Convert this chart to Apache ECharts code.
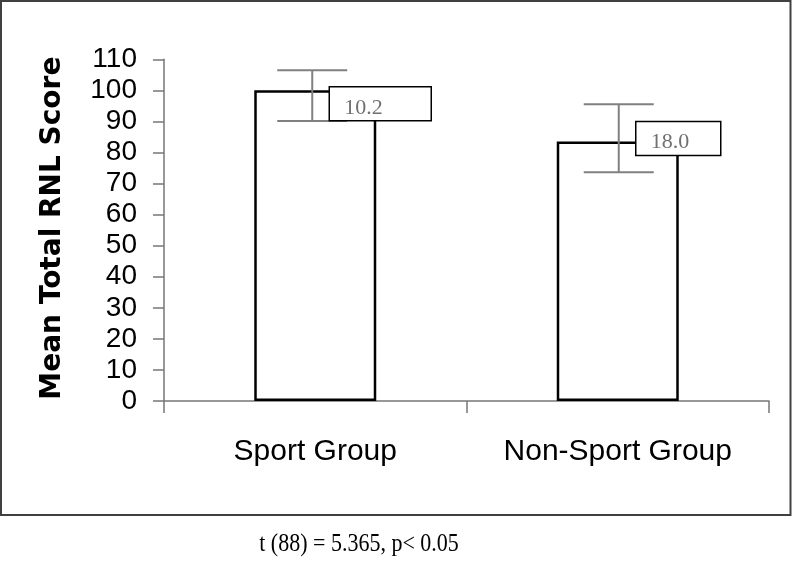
<!DOCTYPE html>
<html>
<head>
<meta charset="utf-8">
<script src="https://cdn.jsdelivr.net/npm/echarts@6/dist/echarts.min.js"></script>
<style>
html,body{margin:0;padding:0;background:#fff;}
#chart{width:792px;height:562px;}
</style>
</head>
<body>
<div id="chart"></div>
<script>
// ---- data ----
const categories = ['Sport Group', 'Non-Sport Group'];
const meanScores = [100, 83.5];
const errorUpper = [106.5, 95.5];
const errorLower = [90.1, 73.6];
const sdLabels = ['10.2', '18.0'];
const yMin = 0, yMax = 110, yInterval = 10;
const yAxisTitle = 'Mean Total RNL Score';
const footnote = 't (88) = 5.365, p< 0.05';

// ---- layout/style (not data) ----
const boxLayout = [
  { dx: 14, dy: -3.5, w: 102, h: 34, errDx: -3 },
  { dx: 18, dy: -20, w: 85, h: 34, errDx: 1 }
];

const errData = categories.map((c, i) => [i, errorLower[i], errorUpper[i], meanScores[i]]);

const chart = echarts.init(document.getElementById('chart'), null, { renderer: 'canvas' });
chart.setOption({
  animation: false,
  backgroundColor: '#fff',
  grid: { left: 164, right: 23, top: 59.3, bottom: 161, containLabel: false, outerBoundsMode: 'none' },
  xAxis: {
    type: 'category',
    data: categories,
    boundaryGap: true,
    axisLine: { lineStyle: { color: '#777', width: 1.5 } },
    axisTick: { show: true, interval: 0, length: 12, alignWithLabel: false, lineStyle: { color: '#777', width: 1.5 } },
    axisLabel: { interval: 0, hideOverlap: false, color: '#000', fontSize: 30, fontFamily: '"Liberation Sans", Arial, sans-serif', margin: 36 }
  },
  yAxis: {
    type: 'value',
    min: yMin, max: yMax, interval: yInterval,
    splitLine: { show: false },
    axisLine: { show: true, lineStyle: { color: '#777', width: 1.5 } },
    axisTick: { show: true, length: 11, lineStyle: { color: '#777', width: 1.5 } },
    axisLabel: { color: '#000', fontSize: 28, fontFamily: '"Liberation Sans", Arial, sans-serif', margin: 27 },
    name: yAxisTitle,
    nameLocation: 'middle',
    nameGap: 97,
    nameTextStyle: { color: '#000', fontSize: 28, fontWeight: 'bold', fontFamily: '"DejaVu Sans", sans-serif', padding: [0, 0, 0, 4] }
  },
  series: [
    {
      type: 'bar',
      data: meanScores,
      barWidth: 122,
      z: 2,
      itemStyle: { color: '#fff', borderColor: '#000', borderWidth: 2.5 },
      silent: true
    },
    {
      type: 'custom',
      data: errData,
      z: 5,
      silent: true,
      renderItem: function (params, api) {
        const i = api.value(0);
        const lo = api.coord([i, api.value(1)]);
        const hi = api.coord([i, api.value(2)]);
        const mean = api.coord([i, api.value(3)]);
        const lb = boxLayout[i];
        const cx = hi[0];
        const x = cx + lb.errDx;
        const cap = 35;
        const bx = cx + lb.dx, by = mean[1] + lb.dy;
        const ls = { stroke: '#808080', lineWidth: 2 };
        return {
          type: 'group',
          children: [
            { type: 'line', shape: { x1: x, y1: hi[1], x2: x, y2: lo[1] }, style: ls },
            { type: 'line', shape: { x1: x - cap, y1: hi[1], x2: x + cap, y2: hi[1] }, style: ls },
            { type: 'line', shape: { x1: x - cap, y1: lo[1], x2: x + cap, y2: lo[1] }, style: ls },
            { type: 'rect', shape: { x: bx, y: by, width: lb.w, height: lb.h }, style: { fill: '#fff', stroke: '#000', lineWidth: 1.5 } },
            { type: 'text', style: { text: sdLabels[i], x: bx + 15, y: by + lb.h / 2 + 4, fill: '#707070', font: '22px "Liberation Serif", "Times New Roman", serif', align: 'left', verticalAlign: 'middle' } }
          ]
        };
      }
    }
  ],
  graphic: [
    { type: 'rect', shape: { x: 1, y: 1, width: 789.5, height: 514 }, style: { fill: 'none', stroke: '#404040', lineWidth: 2 }, silent: true },
    { type: 'text', x: 359, y: 545, scaleY: 1.12, style: { text: footnote, fill: '#000', font: '22px "Liberation Serif", "Times New Roman", serif', align: 'center', verticalAlign: 'middle' }, silent: true }
  ]
});
</script>
</body>
</html>
